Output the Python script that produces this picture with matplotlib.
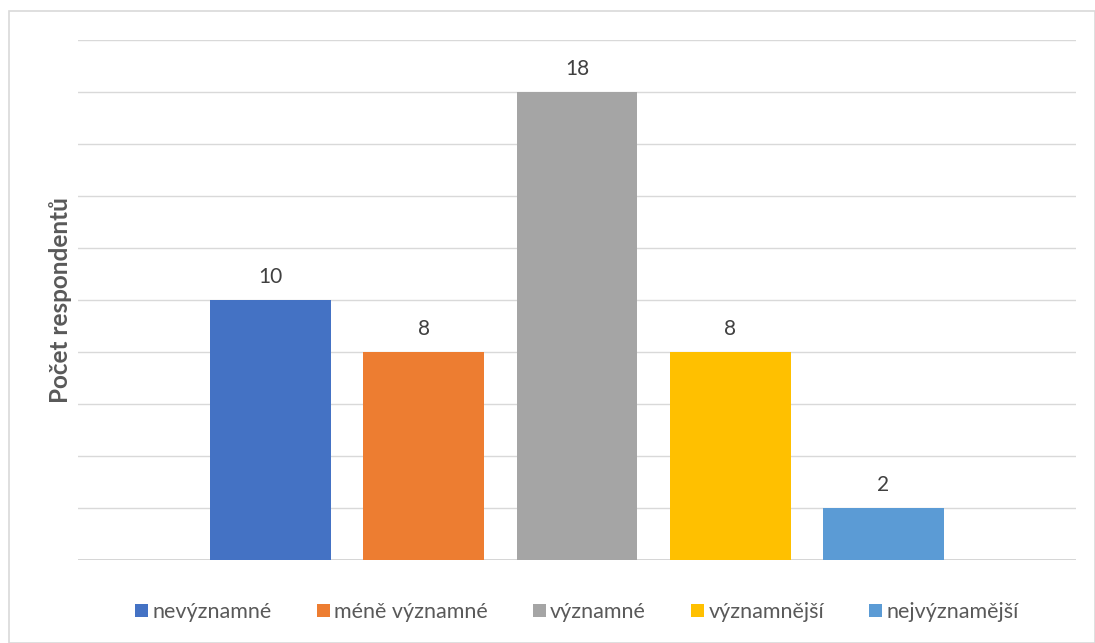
import matplotlib.pyplot as plt
from matplotlib.patches import Rectangle

plt.rcParams['font.family'] = ['Lato', 'DejaVu Sans']

labels = ['nevýznamné', 'méně významné', 'významné', 'významnější', 'nejvýznamější']
counts = [10, 8, 18, 8, 2]
colors = ['#4472C4', '#ED7D31', '#A5A5A5', '#FFC000', '#5B9BD5']
ylabel = 'Počet respondentů'

fig = plt.figure(figsize=(10.95, 6.43), dpi=100)
ax = fig.add_axes([78/1095, 1-560/643, 998/1095, 520/643])

# outer chart border
fig.patches.append(Rectangle((9/1095, 0), 1-9/1095-0.5/1095, 1-11/643, transform=fig.transFigure,
                             fill=False, edgecolor='#D9D9D9', linewidth=1.2))

xs = list(range(len(counts)))
handles = []
for x, c, col, lab in zip(xs, counts, colors, labels):
    b = ax.bar(x, c, width=0.79, color=col, label=lab, zorder=3)
    handles.append(b)
    ax.text(x, c + 0.5, str(c), ha='center', va='bottom', fontsize=15, color='#404040')

ax.set_xlim(-1.26, 4 + 1.26)
ax.set_ylim(0, 20)
ax.set_yticks(range(0, 21, 2))
ax.grid(axis='y', color='#D9D9D9', linewidth=1, zorder=0)
ax.tick_params(left=False, bottom=False, labelleft=False, labelbottom=False)
for s in ax.spines.values():
    s.set_visible(False)
ax.axhline(0, color='#D0D0D0', linewidth=1.2, zorder=2)

fig.text(60/1095, 1-300/643, ylabel, rotation=90, ha='center', va='center',
         fontsize=17.5, fontweight='bold', color='#595959')

fig.legend(handles=handles, labels=labels, loc='center', ncol=5,
           bbox_to_anchor=(577/1095, 1-612/643), frameon=False,
           fontsize=15.5, handlelength=0.6, handleheight=0.6, handletextpad=0.2,
           columnspacing=2.1, labelcolor='#595959')

fig.savefig('out.png', dpi=100)
